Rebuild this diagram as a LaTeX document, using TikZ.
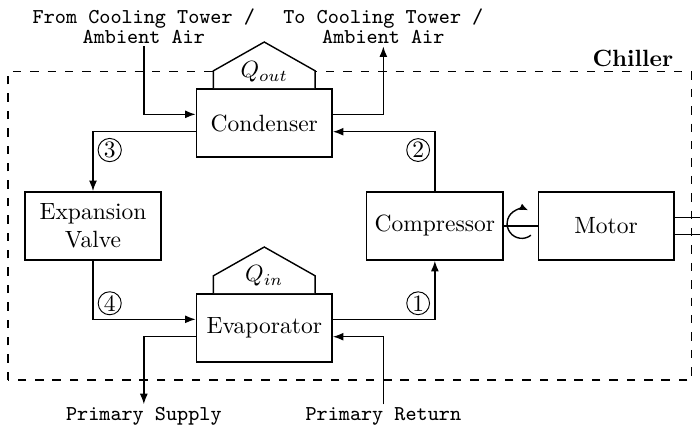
\documentclass[tikz,border=0pt]{standalone}
\usetikzlibrary{arrows.meta}

\tikzset{
  unit/.style={draw,semithick,minimum width=2.03cm,minimum height=1.02cm,align=center},
  flow/.style={semithick,-{Latex[length=4.5pt,width=3.4pt]}},
  pipe/.style={semithick},
  heat/.style={semithick,fill=white},
  num/.style={circle,draw,thin,inner sep=0.5pt},
  ext/.style={font=\small\ttfamily,align=center,inner sep=1pt},
  chillerline/.style={semithick,dash pattern=on 3.6pt off 3.8pt}
}

\begin{document}
\begin{tikzpicture}
\useasboundingbox (0,0) rectangle (10.463,6.353);

% ===== Chiller boundary =====
\draw[chillerline] (0.12,0.67) rectangle (10.34,5.28);
\coordinate (chne) at (10.34,5.28);
\node[font=\bfseries,anchor=south east,inner sep=2pt] (chiller) at ([xshift=-0.2cm]chne) {Chiller};

% ===== Components =====
\node[unit] (cond) at (3.95,4.514) {Condenser};
\node[unit] (evap) at (3.95,1.45) {Evaporator};
\node[unit] (exp) at (1.39,2.975) {Expansion\\Valve};
\node[unit] (comp) at (6.50,2.975) {Compressor};
\node[unit] (motor) at (9.06,2.975) {Motor};

% Heat flows
\filldraw[heat] ([xshift=-0.76cm]cond.north) -- ++(0,0.26) -- ([yshift=0.69cm]cond.north)
  -- ([xshift=0.76cm,yshift=0.26cm]cond.north) -- ([xshift=0.76cm]cond.north);
\node[anchor=base] (qout) at ([yshift=0.16cm]cond.north) {$Q_{out}$};
\filldraw[heat] ([xshift=-0.76cm]evap.north) -- ++(0,0.26) -- ([yshift=0.69cm]evap.north)
  -- ([xshift=0.76cm,yshift=0.26cm]evap.north) -- ([xshift=0.76cm]evap.north);
\node[anchor=base] (qin) at ([yshift=0.17cm]evap.north) {$Q_{in}$};

% ===== Outside connections =====
\node[ext,anchor=south] (fromct) at (2.15,5.66) {From Cooling Tower /\\[-2.5pt]Ambient Air};
\node[ext,anchor=south] (toct) at (5.73,5.66) {To Cooling Tower /\\[-2.5pt]Ambient Air};
\node[ext,anchor=north] (supply) at (2.15,0.31) {Primary Supply};
\node[ext,anchor=north] (return) at (5.73,0.31) {Primary Return};

\draw[flow] (fromct.south) |- ([yshift=0.13cm]cond.west);
\draw[flow] ([yshift=0.13cm]cond.east) -| (toct.south);
\draw[flow] ([yshift=-0.13cm]evap.west) -| (supply.north);
\draw[flow] (return.north) |- ([yshift=-0.13cm]evap.east);

% ===== Refrigerant loop =====
\draw[flow] (comp.north) |- ([yshift=-0.13cm]cond.east);
\draw[flow] ([yshift=-0.13cm]cond.west) -| (exp.north);
\draw[flow] (exp.south) |- ([yshift=0.13cm]evap.west);
\draw[flow] ([yshift=0.13cm]evap.east) -| (comp.south);

\node[num] (s1) at (6.25,1.82) {1};
\node[num] (s2) at (6.25,4.11) {2};
\node[num] (s3) at (1.64,4.11) {3};
\node[num] (s4) at (1.64,1.82) {4};

% ===== Shaft =====
\draw[pipe] (comp.east) -- (motor.west);
\coordinate (rot) at (7.80,3.01);
\draw[pipe,-{Latex[length=3.5pt,width=3pt]}] ([shift={(-52:0.22)}]rot)
  arc[start angle=-52,end angle=-295,radius=0.22];
\draw[pipe] ([yshift=0.13cm]motor.east) -- ++(0.6,0);
\draw[pipe] ([yshift=-0.13cm]motor.east) -- ++(0.6,0);

\end{tikzpicture}
\end{document}
